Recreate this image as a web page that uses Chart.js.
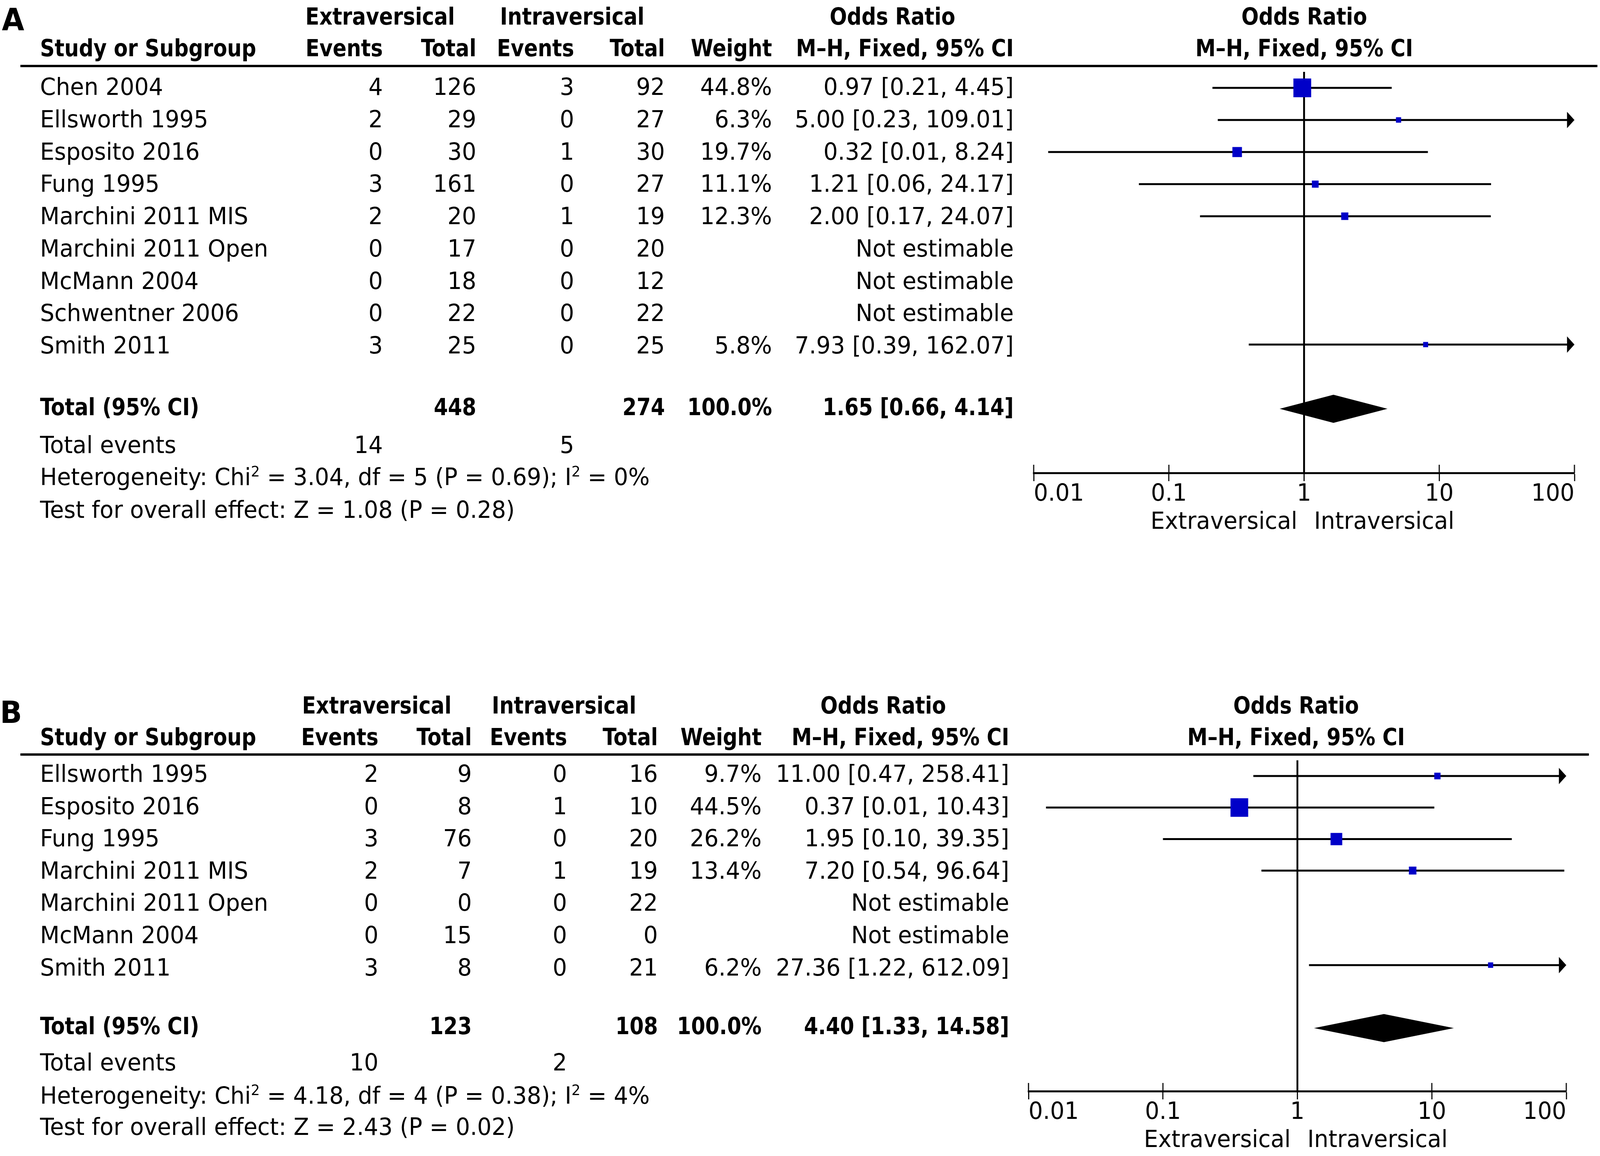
<!DOCTYPE html>
<html>
<head>
<meta charset="utf-8">
<title>Forest plots: extraversical vs intraversical</title>
<script src="https://cdn.jsdelivr.net/npm/chart.js@4.4.1/dist/chart.umd.min.js"></script>
<style>
  html, body { margin: 0; padding: 0; background: #fff; overflow: hidden; }
  #page { position: relative; width: 4317px; height: 2960px; overflow: hidden; transform-origin: 0 0;
          font-family: "DejaVu Sans", sans-serif; color: #000; }
  .t { position: absolute; white-space: nowrap; font-size: 61px; line-height: 60px; height: 60px; }
  .b { font-weight: bold; font-family: "DejaVu Sans Condensed", "DejaVu Sans", sans-serif; font-stretch: condensed; }
  .panel { font-weight: bold; font-size: 78px; line-height: 78px; height: 78px; }
  .sup { font-size: 38px; position: relative; top: -22px; line-height: 0; }
  .rule { position: absolute; background: #000; height: 6px; }
  canvas { position: absolute; }
</style>
</head>
<body>
<div id="page"></div>
<script>
// ---- data: panel A ----
const studiesA = ["Chen 2004", "Ellsworth 1995", "Esposito 2016", "Fung 1995", "Marchini 2011 MIS",
                  "Marchini 2011 Open", "McMann 2004", "Schwentner 2006", "Smith 2011"];
const extEventsA = [4, 2, 0, 3, 2, 0, 0, 0, 3];
const extTotalA = [126, 29, 30, 161, 20, 17, 18, 22, 25];
const intEventsA = [3, 0, 1, 0, 1, 0, 0, 0, 0];
const intTotalA = [92, 27, 30, 27, 19, 20, 12, 22, 25];
const weightA = [44.8, 6.3, 19.7, 11.1, 12.3, null, null, null, 5.8];
const oddsA = [0.97, 5.00, 0.32, 1.21, 2.00, null, null, null, 7.93];
const lowerA = [0.21, 0.23, 0.0128, 0.06, 0.17, null, null, null, 0.39];
const upperA = [4.45, 109.01, 8.24, 24.17, 24.07, null, null, null, 162.07];
const totalOrA = [1.65, 0.66, 4.14];      // estimate, lower, upper
const totalNA = [448, 274];               // extraversical, intraversical
const totalEventsA = [14, 5];
const hetA = [3.04, 5, 0.69, 0];          // chi2, df, P, I2
const testA = [1.08, 0.28];               // Z, P

// ---- data: panel B ----
const studiesB = ["Ellsworth 1995", "Esposito 2016", "Fung 1995", "Marchini 2011 MIS",
                  "Marchini 2011 Open", "McMann 2004", "Smith 2011"];
const extEventsB = [2, 0, 3, 2, 0, 0, 3];
const extTotalB = [9, 8, 76, 7, 0, 15, 8];
const intEventsB = [0, 1, 0, 1, 0, 0, 0];
const intTotalB = [16, 10, 20, 19, 22, 0, 21];
const weightB = [9.7, 44.5, 26.2, 13.4, null, null, 6.2];
const oddsB = [11.00, 0.37, 1.95, 7.20, null, null, 27.36];
const lowerB = [0.47, 0.0135, 0.10, 0.54, null, null, 1.22];
const upperB = [258.41, 10.43, 39.35, 96.64, null, null, 612.09];
const totalOrB = [4.40, 1.33, 14.58];
const totalNB = [123, 108];
const totalEventsB = [10, 2];
const hetB = [4.18, 4, 0.38, 4];
const testB = [2.43, 0.02];

// ---- axis ----
const tickValues = [0.01, 0.1, 1, 10, 100];
const favourLabels = ["Extraversical", "Intraversical"];
const groupLabels = ["Extraversical", "Intraversical"];

const PAGE_W = 4317;
const PAGE_H = 2960;
const page = document.getElementById("page");

// make the figure fill the window, as the original fills its frame
const sx = window.innerWidth / PAGE_W;
const sy = window.innerHeight / PAGE_H;
if (Math.abs(sx - 1) > 0.002 || Math.abs(sy - 1) > 0.002) {
  page.style.transform = `scale(${sx}, ${sy})`;
}

Chart.defaults.font.family = "'DejaVu Sans', sans-serif";
Chart.defaults.color = "#000";

function addText(html, x, cy, align, cls) {
  const el = document.createElement("div");
  el.className = "t" + (cls ? " " + cls : "");
  el.innerHTML = html;
  el.style.top = (cy - 30) + "px";
  if (align === "right") {
    el.style.right = (PAGE_W - x - 3) + "px";
  } else if (align === "center") {
    el.style.left = x + "px";
    el.style.transform = "translateX(-50%)";
  } else {
    el.style.left = (x - 3) + "px";
  }
  page.appendChild(el);
  return el;
}

function ciText(est, lo, hi) {
  return `${est.toFixed(2)} [${lo.toFixed(2)}, ${hi.toFixed(2)}]`;
}

// square side grows with study weight
function squareSide(w) {
  return 8.4 + 0.883 * w;
}

function forestLayer(d) {
  return {
    id: "forest",
    beforeDatasetsDraw(chart) {
      const { ctx, chartArea, scales: { x, y } } = chart;
      ctx.save();
      ctx.strokeStyle = "#000";
      ctx.fillStyle = "#000";

      // line of no effect
      const x1 = x.getPixelForValue(1);
      ctx.lineWidth = 5;
      ctx.beginPath();
      ctx.moveTo(x1, chartArea.top);
      ctx.lineTo(x1, chartArea.bottom);
      ctx.stroke();

      // confidence intervals
      d.odds.forEach((or, i) => {
        if (or == null) return;
        const yy = y.getPixelForValue(i);
        const xa = x.getPixelForValue(Math.max(d.lower[i], x.min));
        const xb = x.getPixelForValue(Math.min(d.upper[i], x.max));
        const cut = d.upper[i] > x.max;
        ctx.lineWidth = 5;
        ctx.beginPath();
        ctx.moveTo(xa, yy);
        ctx.lineTo(cut ? xb - 18 : xb, yy);
        ctx.stroke();
        if (cut) {
          ctx.beginPath();
          ctx.moveTo(xb, yy);
          ctx.lineTo(xb - 20, yy - 21);
          ctx.lineTo(xb - 20, yy + 21);
          ctx.closePath();
          ctx.fill();
        }
      });

      // pooled diamond
      const [est, lo, hi] = d.total;
      const yt = y.getPixelForValue(d.odds.length + 1);
      ctx.beginPath();
      ctx.moveTo(x.getPixelForValue(lo), yt);
      ctx.lineTo(x.getPixelForValue(est), yt - 36);
      ctx.lineTo(x.getPixelForValue(hi), yt);
      ctx.lineTo(x.getPixelForValue(est), yt + 36);
      ctx.closePath();
      ctx.fill();
      ctx.restore();
    },
    afterDraw(chart) {
      const { ctx, chartArea, scales: { x } } = chart;
      ctx.save();
      // upper half of tick marks
      ctx.strokeStyle = "#000";
      ctx.lineWidth = 3;
      x.ticks.forEach(t => {
        const px = x.getPixelForValue(t.value);
        ctx.beginPath();
        ctx.moveTo(px, chartArea.bottom - 21);
        ctx.lineTo(px, chartArea.bottom);
        ctx.stroke();
      });
      // favours labels either side of 1
      const x1 = x.getPixelForValue(1);
      const ly = chartArea.bottom + 127;
      ctx.fillStyle = "#000";
      ctx.font = "61px 'DejaVu Sans'";
      ctx.textBaseline = "middle";
      ctx.textAlign = "right";
      ctx.fillText(favourLabels[0], x1 - 18, ly);
      ctx.textAlign = "left";
      ctx.fillText(favourLabels[1], x1 + 27, ly);
      ctx.restore();
    }
  };
}

function buildPanel(letter, d, L) {
  // panel letter
  const lab = addText(letter, L.letterX, L.letterY, "left", "panel");
  lab.style.top = (L.letterY - 39) + "px";

  // headers
  addText(groupLabels[0], L.groupX[0], L.head1, "left", "b");
  addText(groupLabels[1], L.groupX[1], L.head1, "left", "b");
  addText("Odds Ratio", L.orHeadC, L.head1, "center", "b");
  addText("Odds Ratio", L.plotC, L.head1, "center", "b");
  addText("Study or Subgroup", L.nameX, L.head2, "left", "b");
  ["Events", "Total", "Events", "Total", "Weight", "M\u2013H, Fixed, 95% CI"].forEach((h, k) =>
    addText(h, L.cols[k], L.head2, "right", "b"));
  addText("M\u2013H, Fixed, 95% CI", L.plotC, L.head2, "center", "b");

  const rule = document.createElement("div");
  rule.className = "rule";
  rule.style.left = L.ruleX1 + "px";
  rule.style.width = (L.ruleX2 - L.ruleX1) + "px";
  rule.style.top = (L.ruleY - 3) + "px";
  page.appendChild(rule);

  // study rows
  d.studies.forEach((s, i) => {
    const cy = L.row0 + L.rowStep * i;
    addText(s, L.nameX, cy, "left");
    addText(String(d.extEvents[i]), L.cols[0], cy, "right");
    addText(String(d.extTotal[i]), L.cols[1], cy, "right");
    addText(String(d.intEvents[i]), L.cols[2], cy, "right");
    addText(String(d.intTotal[i]), L.cols[3], cy, "right");
    if (d.odds[i] == null) {
      addText("Not estimable", L.cols[5], cy, "right");
    } else {
      addText(d.weight[i].toFixed(1) + "%", L.cols[4], cy, "right");
      addText(ciText(d.odds[i], d.lower[i], d.upper[i]), L.cols[5], cy, "right");
    }
  });

  // totals
  addText("Total (95% CI)", L.nameX, L.totalY, "left", "b");
  addText(String(d.totalN[0]), L.cols[1], L.totalY, "right", "b");
  addText(String(d.totalN[1]), L.cols[3], L.totalY, "right", "b");
  addText("100.0%", L.cols[4], L.totalY, "right", "b");
  addText(ciText(d.total[0], d.total[1], d.total[2]), L.cols[5], L.totalY, "right", "b");
  addText("Total events", L.nameX, L.eventsY, "left");
  addText(String(d.events[0]), L.cols[0], L.eventsY, "right");
  addText(String(d.events[1]), L.cols[2], L.eventsY, "right");
  const [chi, df, p, i2] = d.het;
  addText(`Heterogeneity: Chi<span class="sup">2</span> = ${chi.toFixed(2)}, df = ${df} (P = ${p.toFixed(2)}); I<span class="sup">2</span> = ${i2}%`,
          L.nameX, L.hetY, "left");
  addText(`Test for overall effect: Z = ${d.test[0].toFixed(2)} (P = ${d.test[1].toFixed(2)})`,
          L.nameX, L.testY, "left");

  // forest plot
  const canvas = document.createElement("canvas");
  const top = L.ruleY - 19;
  const axisH = Math.min(200, PAGE_H - L.axisY);
  canvas.width = PAGE_W - L.canvasX;
  canvas.height = (L.axisY - top) + axisH;
  canvas.style.left = L.canvasX + "px";
  canvas.style.top = top + "px";
  page.appendChild(canvas);

  const points = [];
  d.odds.forEach((v, i) => { if (v != null) points.push({ x: v, y: i, w: d.weight[i] }); });

  new Chart(canvas, {
    type: "scatter",
    data: {
      datasets: [{
        data: points,
        pointStyle: "rect",
        backgroundColor: "#0000c8",
        borderWidth: 0,
        pointRadius: ctx => squareSide(ctx.raw.w) / Math.SQRT2,
        pointHoverRadius: ctx => squareSide(ctx.raw.w) / Math.SQRT2
      }]
    },
    options: {
      responsive: false,
      animation: false,
      devicePixelRatio: 1,
      events: [],
      layout: { padding: { left: L.axisL - L.canvasX, right: PAGE_W - L.axisR, top: 19, bottom: 0 } },
      plugins: { legend: { display: false }, tooltip: { enabled: false } },
      scales: {
        x: {
          type: "logarithmic",
          min: tickValues[0],
          max: tickValues[tickValues.length - 1],
          afterBuildTicks: scale => { scale.ticks = tickValues.map(v => ({ value: v })); },
          afterFit: scale => { scale.height = axisH; },
          ticks: {
            callback: value => String(value),
            align: "inner",
            autoSkip: false,
            maxRotation: 0,
            padding: 4,
            color: "#000",
            font: { size: 61, lineHeight: 1 }
          },
          grid: { display: true, drawOnChartArea: false, drawTicks: true, tickLength: 21, tickWidth: 3, tickColor: "#000" },
          border: { display: true, color: "#000", width: 5 }
        },
        y: {
          type: "linear",
          display: false,
          reverse: true,
          min: -0.5,
          max: d.odds.length + 3
        }
      }
    },
    plugins: [forestLayer(d)]
  });
}

buildPanel("A", {
  studies: studiesA, extEvents: extEventsA, extTotal: extTotalA, intEvents: intEventsA, intTotal: intTotalA,
  weight: weightA, odds: oddsA, lower: lowerA, upper: upperA, total: totalOrA, totalN: totalNA,
  events: totalEventsA, het: hetA, test: testA
}, {
  letterX: 8, letterY: 50, head1: 42, head2: 123, groupX: [827, 1352], orHeadC: 2408, plotC: 3519,
  nameX: 111, cols: [1030, 1282, 1546, 1791, 2080, 2732],
  ruleX1: 55, ruleX2: 4310, ruleY: 169, row0: 222, rowStep: 82.75,
  totalY: 1042, eventsY: 1139, hetY: 1221, testY: 1305,
  canvasX: 2700, axisL: 2789, axisR: 4248, axisY: 1211
});

buildPanel("B", {
  studies: studiesB, extEvents: extEventsB, extTotal: extTotalB, intEvents: intEventsB, intTotal: intTotalB,
  weight: weightB, odds: oddsB, lower: lowerB, upper: upperB, total: totalOrB, totalN: totalNB,
  events: totalEventsB, het: hetB, test: testB
}, {
  letterX: 3, letterY: 1824, head1: 1806, head2: 1887, groupX: [818, 1330], orHeadC: 2383, plotC: 3497,
  nameX: 111, cols: [1018, 1270, 1527, 1772, 2052, 2720],
  ruleX1: 55, ruleX2: 4287, ruleY: 1932, row0: 1981, rowStep: 82.6,
  totalY: 2627, eventsY: 2720, hetY: 2805, testY: 2885,
  canvasX: 2700, axisL: 2775, axisR: 4226, axisY: 2794
});
</script>
</body>
</html>
